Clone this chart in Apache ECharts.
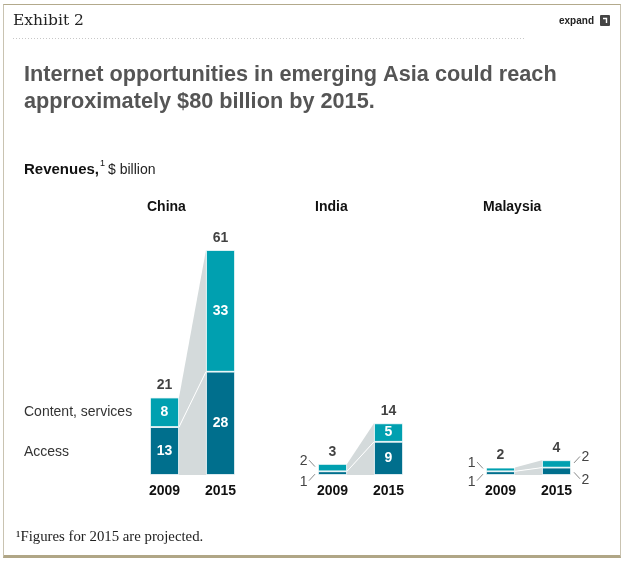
<!DOCTYPE html>
<html lang="en">
<head>
<meta charset="utf-8">
<title>Exhibit 2</title>
<script src="https://cdn.jsdelivr.net/npm/echarts@6/dist/echarts.min.js"></script>
<style>
  html, body { margin: 0; padding: 0; background: #fff; }
  .frame {
    position: absolute; left: 3px; top: 4px; width: 616px; height: 550px;
    border: 1px solid #c9c3b1; border-top-color: #b3aa8c;
    border-bottom: 3px solid #b0a686;
  }
  #chart { position: absolute; left: 0; top: 0; width: 627px; height: 562px; }
</style>
</head>
<body>
<div class="frame"></div>
<div id="chart"></div>
<script>
// revenues, $ billion -- blank categories keep the gap between countries
var categories = ['2009', '2015', '', '2009', '2015', '', '2009', '2015'];
var access = [13, 28, null, 1, 9, null, 1, 2];
var content = [8, 33, null, 2, 5, null, 1, 2];
var totals = [21, 61, null, 3, 14, null, 2, 4];
var countries = ['China', 'India', 'Malaysia'];
var countryStart = [0, 3, 6];
// bars too thin for inside labels: -1 label on the left, 1 on the right
var calloutSide = [0, 0, 0, -1, 0, 0, -1, 1];

var yMax = 61;
var barWidth = 29;
var font = 'Liberation Sans, Arial, sans-serif';
var colContent = '#00a0b0';
var colAccess = '#006f8d';
var colLink = '#d4dadb';

var chart = echarts.init(document.getElementById('chart'));

function barData(vals) {
  return vals.map(function (v, i) {
    if (v == null) return '-';
    return { value: v, label: { show: calloutSide[i] === 0 } };
  });
}

var links = countryStart.map(function (s) {
  var e = s + 1;
  return [s, e, access[s], totals[s], access[e], totals[e]];
});

var totalPoints = [];
totals.forEach(function (v, i) {
  if (v != null) totalPoints.push([i, v]);
});

var callouts = [];
calloutSide.forEach(function (side, i) {
  if (!side) return;
  callouts.push([i, access[i] + content[i] / 2, content[i], side, -1]);
  callouts.push([i, access[i] / 2, access[i], side, 1]);
});

var insideLabel = {
  show: true, position: 'inside', color: '#fff',
  fontFamily: font, fontWeight: 'bold', fontSize: 14
};

var option = {
  animation: false,
  grid: { left: 136.5, top: 250, width: 448, height: 225 },
  xAxis: {
    type: 'category',
    data: categories,
    axisLine: { show: false },
    axisTick: { show: false },
    axisLabel: {
      interval: 0, margin: 9, color: '#111',
      fontFamily: font, fontWeight: 'bold', fontSize: 14
    }
  },
  yAxis: { type: 'value', min: 0, max: yMax, show: false },
  graphic: [
    { type: 'text', x: 13, y: 21, style: { text: 'Exhibit 2', fill: '#222', font: '15.5px "DejaVu Serif", serif', verticalAlign: 'middle' } },
    { type: 'line', shape: { x1: 13, y1: 38.5, x2: 525, y2: 38.5 }, style: { stroke: '#c8c8c8', lineWidth: 1, lineDash: [1, 2] } },
    { type: 'text', x: 594, y: 21, style: { text: 'expand', fill: '#222', font: 'bold 10px ' + font, align: 'right', verticalAlign: 'middle' } },
    { type: 'rect', shape: { x: 600, y: 15, width: 10, height: 11, r: 1 }, style: { fill: '#444' } },
    { type: 'polyline', shape: { points: [[603, 18.5], [606.5, 18.5], [606.5, 23]] }, style: { stroke: '#fff', lineWidth: 1.4, fill: null } },
    { type: 'text', x: 24, y: 62, style: { text: 'Internet opportunities in emerging Asia could reach\napproximately $80 billion by 2015.', fill: '#555', font: 'bold 21.7px ' + font, lineHeight: 27, verticalAlign: 'top' } },
    { type: 'text', x: 24, y: 170, style: { text: 'Revenues,', fill: '#111', font: 'bold 15px ' + font, verticalAlign: 'middle' } },
    { type: 'text', x: 100, y: 164, style: { text: '1', fill: '#111', font: '9px ' + font, verticalAlign: 'middle' } },
    { type: 'text', x: 108, y: 170, style: { text: '$ billion', fill: '#222', font: '14px ' + font, verticalAlign: 'middle' } },
    { type: 'text', x: 24, y: 412, style: { text: 'Content, services', fill: '#333', font: '14px ' + font, verticalAlign: 'middle' } },
    { type: 'text', x: 24, y: 452, style: { text: 'Access', fill: '#333', font: '14px ' + font, verticalAlign: 'middle' } },
    { type: 'text', x: 16, y: 537, style: { text: '\u00b9Figures for 2015 are projected.', fill: '#222', font: '14.8px "Liberation Serif", serif', verticalAlign: 'middle' } }
  ],
  series: [
    {
      type: 'custom',
      data: links,
      z: 1,
      silent: true,
      encode: { x: [0, 1], y: [2, 3, 4, 5] },
      renderItem: function (params, api) {
        var hw = barWidth / 2;
        var i0 = api.value(0), i1 = api.value(1);
        var b0 = api.coord([i0, 0]), a0 = api.coord([i0, api.value(2)]), t0 = api.coord([i0, api.value(3)]);
        var b1 = api.coord([i1, 0]), a1 = api.coord([i1, api.value(4)]), t1 = api.coord([i1, api.value(5)]);
        var x0 = b0[0] + hw, x1 = b1[0] - hw;
        var top = api.coord([i0, yMax])[1];
        return {
          type: 'group',
          children: [
            { type: 'polygon', shape: { points: [[x0, b0[1]], [x0, a0[1]], [x1, a1[1]], [x1, b1[1]]] }, style: { fill: colLink } },
            { type: 'polygon', shape: { points: [[x0, a0[1]], [x0, t0[1]], [x1, t1[1]], [x1, a1[1]]] }, style: { fill: colLink } },
            { type: 'line', shape: { x1: x0, y1: a0[1], x2: x1, y2: a1[1] }, style: { stroke: '#fff', lineWidth: 1 } },
            { type: 'text', x: b0[0] - hw - 3, y: top - 43, style: { text: countries[params.dataIndex], fill: '#111', font: 'bold 14px ' + font, align: 'left', verticalAlign: 'middle' } }
          ]
        };
      }
    },
    {
      name: 'Access',
      type: 'bar',
      stack: 'rev',
      barWidth: barWidth,
      z: 3,
      data: barData(access),
      itemStyle: { color: colAccess, borderColor: '#fff', borderWidth: 0.8 },
      label: insideLabel
    },
    {
      name: 'Content, services',
      type: 'bar',
      stack: 'rev',
      barWidth: barWidth,
      z: 3,
      data: barData(content),
      itemStyle: { color: colContent, borderColor: '#fff', borderWidth: 0.8 },
      label: insideLabel
    },
    {
      type: 'scatter',
      data: totalPoints,
      symbolSize: 0,
      silent: true,
      label: {
        show: true, position: 'top', distance: 5,
        formatter: function (p) { return p.value[1]; },
        color: '#111', fontFamily: font, fontWeight: 'bold', fontSize: 14
      }
    },
    {
      type: 'custom',
      data: callouts,
      z: 4,
      silent: true,
      encode: { x: 0, y: 1 },
      renderItem: function (params, api) {
        var hw = barWidth / 2;
        var p = api.coord([api.value(0), api.value(1)]);
        var side = api.value(3), dir = api.value(4);
        var edge = p[0] + side * hw;
        var sx = edge + side * 3, sy = p[1] + dir * 1;
        var ex = edge + side * 9, ey = p[1] + dir * 7.5;
        return {
          type: 'group',
          children: [
            { type: 'line', shape: { x1: sx, y1: sy, x2: ex, y2: ey }, style: { stroke: '#888', lineWidth: 1 } },
            { type: 'text', x: ex + side * 1.5, y: ey + 1, style: { text: String(api.value(2)), fill: '#444', font: '14px ' + font, align: side < 0 ? 'right' : 'left', verticalAlign: 'middle' } }
          ]
        };
      }
    }
  ]
};

chart.setOption(option);
</script>
</body>
</html>
